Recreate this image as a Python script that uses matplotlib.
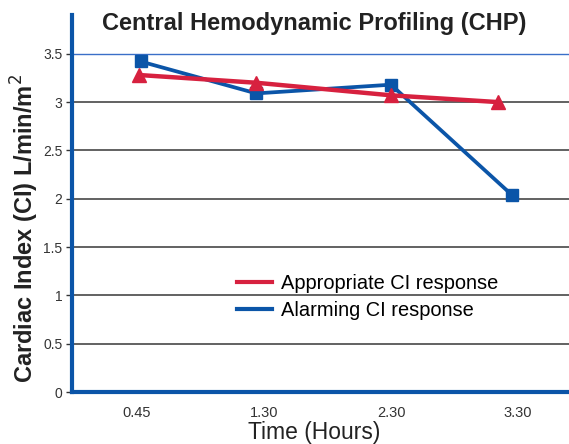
import matplotlib.pyplot as plt

# data
time_labels = ['0.45', '1.30', '2.30', '3.30']
tick_pos = [0, 1, 2, 3]
appropriate_x = [0.02, 0.94, 2.0, 2.84]
appropriate_ci = [3.28, 3.2, 3.07, 3.0]
alarming_x = [0.03, 0.94, 2.0, 2.95]
alarming_ci = [3.42, 3.09, 3.18, 2.04]
y_ticks = [0, 0.5, 1, 1.5, 2, 2.5, 3, 3.5]
y_labels = ['0', '0.5', '1', '1.5', '2', '2.5', '3', '3.5']

red = '#d7213f'
blue = '#0b55a8'
font = ['Liberation Sans', 'DejaVu Sans']
plt.rcParams['font.family'] = font

fig = plt.figure(figsize=(5.69, 4.44), dpi=100)
ax = fig.add_axes([0.1265, 0.117, 0.8735, 0.849])

for y in y_ticks[1:]:
    c = '#3a6fc8' if y == 3.5 else '#555555'
    lw = 1.0 if y == 3.5 else 1.3
    ax.axhline(y, color=c, lw=lw, zorder=1)

ax.plot(appropriate_x, appropriate_ci, color=red, lw=3.2, marker='^', ms=10,
        label='Appropriate CI response', zorder=3)
ax.plot(alarming_x, alarming_ci, color=blue, lw=2.7, marker='s', ms=8.5,
        label='Alarming CI response', zorder=2)

ax.set_xlim(-0.51, 3.4)
ax.set_ylim(0, 3.9)
ax.set_xticks(tick_pos)
ax.set_xticklabels(time_labels)
ax.set_yticks(y_ticks)
ax.set_yticklabels(y_labels)
ax.tick_params(axis='x', length=0, pad=10, labelsize=10.5, labelcolor='#333333')
ax.tick_params(axis='y', length=4, width=1, color='#333333', pad=3,
               labelsize=10, labelcolor='#333333')

for s in ['top', 'right']:
    ax.spines[s].set_visible(False)
for s in ['left', 'bottom']:
    ax.spines[s].set_color(blue)
    ax.spines[s].set_linewidth(3)

ax.set_xlabel('Time (Hours)', fontsize=16.5, color='#222222', va='center')
ax.xaxis.set_label_coords(0.488, -0.106)
ax.set_ylabel('Cardiac Index (CI) L/min/m$^2$', fontsize=17,
              fontweight='bold', color='#222222', va='center')
ax.yaxis.set_label_coords(-0.095, 0.435)
ax.text(0.488, 0.977, 'Central Hemodynamic Profiling (CHP)', transform=ax.transAxes,
        ha='center', va='center', fontsize=17, fontweight='bold', color='#222222')

leg = ax.legend(loc='center left', bbox_to_anchor=(0.332, 0.252), frameon=False,
                borderpad=0, borderaxespad=0, handlelength=1.75, handletextpad=0.45,
                labelspacing=0.4, prop={'size': 14.4})
for h in leg.legend_handles:
    h.set_marker('')
    h.set_linewidth(3)

fig.savefig('out.png', dpi=100)
